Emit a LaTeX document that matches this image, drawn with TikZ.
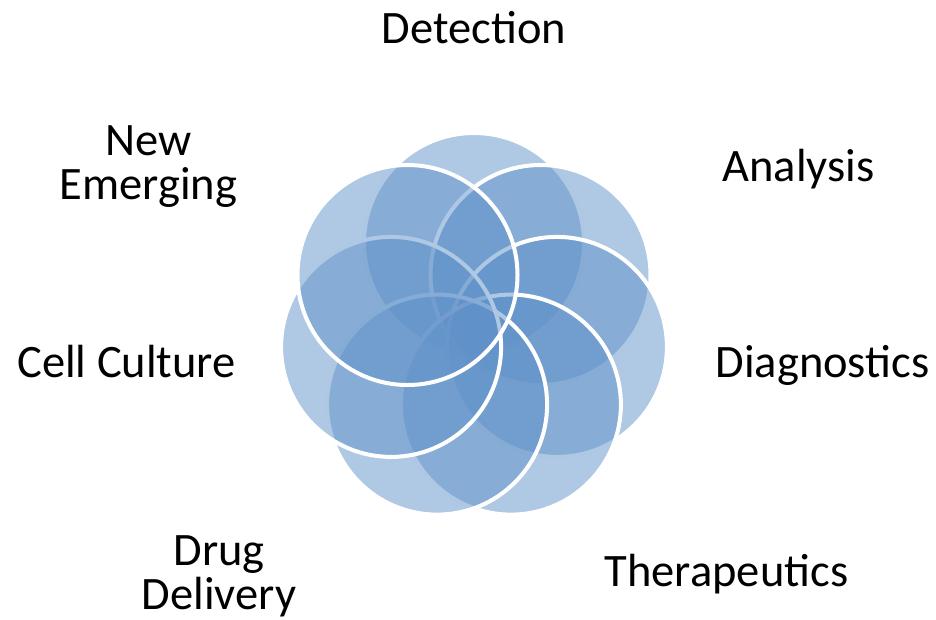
\documentclass[tikz,border=0pt]{standalone}
\usepackage{fontspec}
\setmainfont{Carlito}
\definecolor{petal}{RGB}{95,145,200}
\begin{document}
\begin{tikzpicture}[x=1pt,y=-1pt]
\useasboundingbox (0,0) rectangle (936,619);
\begin{scope}[every node/.style={circle,inner sep=0pt,minimum size=220pt,
                                 fill=petal,fill opacity=0.5,
                                 draw=white,line width=4pt}]
    \node (det) at (474,243) {};
    \node (ana) at (540.5,275) {};
    \node (dia) at (556.9,346.9) {};
    \node (the) at (510.9,404.6) {};
    \node (dru) at (437.1,404.6) {};
    \node (cel) at (391.1,346.9) {};
    \node (new) at (407.5,275) {};
\end{scope}

\begin{scope}[every node/.style={anchor=base,inner sep=0pt,align=center,
                                 font=\fontsize{46.5}{44}\selectfont}]
    \node (tdet) at (474,43.3) {Detection};
    \node (tana) at (798.5,181.7) {Analysis};
    \node (tdia) at (822.5,377.7) {Diagnostics};
    \node (tthe) at (726.5,586.7) {Therapeutics};
    \node (tdru) at (219,609) {Drug\\Delivery};
    \node (tcel) at (126.5,377.7) {Cell Culture};
    \node (tnew) at (148.5,199) {New\\Emerging};
\end{scope}
\end{tikzpicture}
\end{document}
